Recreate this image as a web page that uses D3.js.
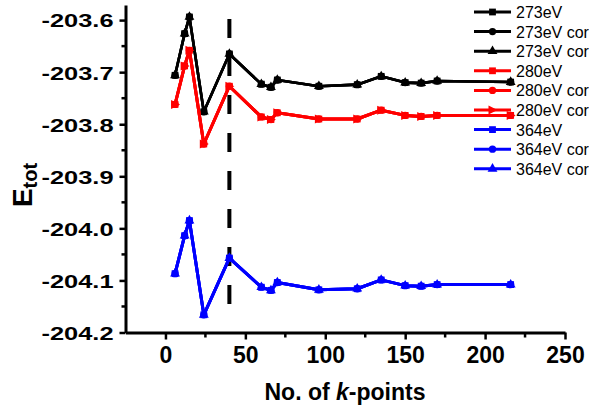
<!DOCTYPE html>
<html>
<head>
<meta charset="utf-8">
<script src="https://cdn.jsdelivr.net/npm/d3@7"></script>
<style>
  html, body { margin: 0; padding: 0; background: #fff; }
  svg { display: block; font-family: "Liberation Sans", Arial, sans-serif; }
</style>
</head>
<body>
<svg id="chart" width="589" height="412"></svg>
<script>
// k-point counts used in the convergence test
const kPoints = [6, 12, 15, 24, 40, 60, 66, 70, 96, 120, 135, 150, 160, 170, 216];

// total energies for each cutoff (plain and corrected runs)
const e273 = [-203.706, -203.626, -203.594, -203.776, -203.665, -203.723, -203.729, -203.715, -203.727, -203.724, -203.708, -203.720, -203.721, -203.717, -203.719];
const e273cor = [-203.706, -203.626, -203.594, -203.776, -203.665, -203.723, -203.729, -203.715, -203.727, -203.724, -203.708, -203.720, -203.721, -203.717, -203.719];
const e273cor2 = [-203.706, -203.626, -203.594, -203.776, -203.665, -203.723, -203.729, -203.715, -203.727, -203.724, -203.708, -203.720, -203.721, -203.717, -203.719];
const e280 = [-203.762, -203.688, -203.658, -203.838, -203.727, -203.786, -203.791, -203.778, -203.790, -203.790, -203.773, -203.783, -203.785, -203.783, -203.783];
const e280cor = [-203.762, -203.688, -203.658, -203.838, -203.727, -203.786, -203.791, -203.778, -203.790, -203.790, -203.773, -203.783, -203.785, -203.783, -203.783];
const e280cor2 = [-203.762, -203.688, -203.658, -203.838, -203.727, -203.786, -203.791, -203.778, -203.790, -203.790, -203.773, -203.783, -203.785, -203.783, -203.783];
const e364 = [-204.087, -204.014, -203.985, -204.166, -204.057, -204.113, -204.119, -204.104, -204.118, -204.116, -204.099, -204.110, -204.111, -204.108, -204.108];
const e364cor = [-204.087, -204.014, -203.985, -204.166, -204.057, -204.113, -204.119, -204.104, -204.118, -204.116, -204.099, -204.110, -204.111, -204.108, -204.108];
const e364cor2 = [-204.087, -204.014, -203.985, -204.166, -204.057, -204.113, -204.119, -204.104, -204.118, -204.116, -204.099, -204.110, -204.111, -204.108, -204.108];

const seriesNames = ["273eV", "273eV cor", "273eV cor", "280eV", "280eV cor", "280eV cor", "364eV", "364eV cor", "364eV cor"];
const seriesValues = [e273, e273cor, e273cor2, e280, e280cor, e280cor2, e364, e364cor, e364cor2];
const seriesColors = ["#000", "#000", "#000", "#f00", "#f00", "#f00", "#00f", "#00f", "#00f"];
const seriesMarkers = ["square", "circle", "triangle", "square", "circle", "triangleRight", "square", "circle", "triangle"];

const xTicks = [0, 50, 100, 150, 200, 250];
const xMinorTicks = [25, 75, 125, 175, 225];
const yTicks = [-204.2, -204.1, -204.0, -203.9, -203.8, -203.7, -203.6];
const yMinorTicks = [-204.15, -204.05, -203.95, -203.85, -203.75, -203.65];
const markerK = 40;

const svg = d3.select("#chart");
const x = d3.scaleLinear().domain([-25, 250]).range([125.5, 565]);
const y = d3.scaleLinear().domain([-204.2, -203.571]).range([332.5, 5]);

const fontStack = '"Liberation Sans", Arial, sans-serif';
// plain hyphen for negatives
const fmtY = d => d.toFixed(1);

// axes
const yAxis = svg.append("g").attr("transform", `translate(${x(-25)},0)`)
  .call(d3.axisLeft(y).tickValues(yTicks).tickSize(6).tickSizeOuter(0).tickFormat(fmtY));
yAxis.select(".domain").attr("stroke-width", 3);
yAxis.selectAll(".tick line").attr("stroke-width", 2.5);
yAxis.selectAll(".tick text").attr("x", -12).attr("dy", "0.36em")
  .attr("font-family", fontStack).attr("font-weight", "bold").attr("font-size", 19)
  .attr("textLength", 72).attr("lengthAdjust", "spacingAndGlyphs");
svg.append("g").selectAll("line").data(yMinorTicks).join("line")
  .attr("x1", x(-25) - 4).attr("x2", x(-25))
  .attr("y1", d => y(d)).attr("y2", d => y(d))
  .attr("stroke", "#000").attr("stroke-width", 2.5);

const xAxis = svg.append("g").attr("transform", `translate(0,${y(-204.2)})`)
  .call(d3.axisBottom(x).tickValues(xTicks).tickSize(7).tickSizeOuter(0).tickFormat(d => String(d)));
xAxis.select(".domain").attr("stroke-width", 3);
xAxis.selectAll(".tick line").attr("stroke-width", 2.5);
xAxis.selectAll(".tick text").attr("y", 14)
  .attr("font-family", fontStack).attr("font-weight", "bold").attr("font-size", 23);
svg.append("g").selectAll("line").data(xMinorTicks).join("line")
  .attr("x1", d => x(d)).attr("x2", d => x(d))
  .attr("y1", y(-204.2)).attr("y2", y(-204.2) + 5)
  .attr("stroke", "#000").attr("stroke-width", 2.5);

// axis titles
svg.append("text")
  .attr("x", 345).attr("y", 400).attr("text-anchor", "middle")
  .attr("font-family", fontStack).attr("font-weight", "bold").attr("font-size", 23)
  .call(t => {
    t.append("tspan").text("No. of ");
    t.append("tspan").attr("font-style", "italic").text("k");
    t.append("tspan").text("-points");
  });

const yTitle = svg.append("text")
  .attr("transform", "translate(32,185) rotate(-90)")
  .attr("text-anchor", "middle")
  .attr("font-family", fontStack).attr("font-weight", "bold").attr("font-size", 28);
yTitle.append("tspan").text("E");
yTitle.append("tspan").attr("font-size", 20).attr("dy", 5).text("tot");

// vertical dashed guide at the converged k-point count
svg.append("line")
  .attr("x1", x(markerK)).attr("x2", x(markerK))
  .attr("y1", 19).attr("y2", 305)
  .attr("stroke", "#000").attr("stroke-width", 4)
  .attr("stroke-dasharray", "19,19");

// marker shapes
function markerPath(kind) {
  if (kind === "square") return d3.symbol(d3.symbolSquare, 46)();
  if (kind === "circle") return d3.symbol(d3.symbolCircle, 42)();
  if (kind === "triangle") return d3.symbol(d3.symbolTriangle, 42)();
  return "M-4,-4.5L5,0L-4,4.5Z";
}

const line = d3.line().x(d => x(d.k)).y(d => y(d.e));

seriesValues.forEach((vals, i) => {
  const pts = kPoints.map((k, j) => ({ k, e: vals[j] }));
  const g = svg.append("g");
  g.append("path").datum(pts)
    .attr("d", line)
    .attr("fill", "none")
    .attr("stroke", seriesColors[i])
    .attr("stroke-width", i < 3 ? 2.6 : 3)
    .attr("stroke-linejoin", "round");
  g.selectAll("path.m").data(pts).join("path")
    .attr("class", "m")
    .attr("d", markerPath(seriesMarkers[i]))
    .attr("transform", d => `translate(${x(d.k)},${y(d.e)})`)
    .attr("fill", seriesColors[i]);
});

// legend
const legend = svg.append("g");
seriesNames.forEach((name, i) => {
  const ly = 12 + i * 19.6;
  legend.append("line")
    .attr("x1", 474).attr("x2", 511).attr("y1", ly).attr("y2", ly)
    .attr("stroke", seriesColors[i]).attr("stroke-width", 3);
  legend.append("path")
    .attr("d", markerPath(seriesMarkers[i]))
    .attr("transform", `translate(492.5,${ly})`)
    .attr("fill", seriesColors[i]);
  legend.append("text")
    .attr("x", 516).attr("y", ly + 6)
    .attr("font-family", fontStack).attr("font-size", 16)
    .text(name);
});
</script>
</body>
</html>
